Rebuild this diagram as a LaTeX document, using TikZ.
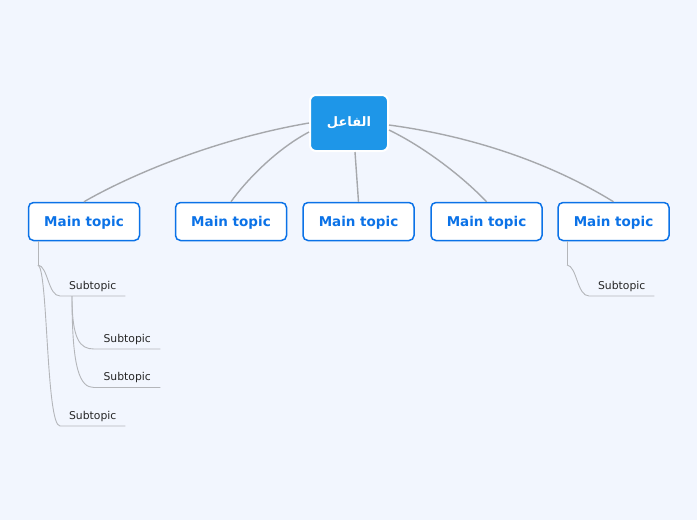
\documentclass[tikz,border=0pt]{standalone}
\usepackage{fontspec}
\setmainfont{DejaVu Sans}
\newfontfamily\arabicfont[Script=Arabic]{DejaVu Sans}
\TeXXeTstate=1
\usepackage{tikz}
\usetikzlibrary{positioning}

\definecolor{bgcol}{HTML}{F2F6FE}
\definecolor{rootblue}{HTML}{1E96E8}
\definecolor{topicblue}{HTML}{0B72E7}
\definecolor{linkgray}{HTML}{A6A8AC}
\definecolor{subgray}{HTML}{B4B6BA}

\tikzset{
  rootnode/.style={draw=white, line width=2pt, fill=rootblue, rounded corners=6pt,
    minimum width=78pt, minimum height=56pt, text=white, font=\fontsize{13}{16}\selectfont\bfseries},
  maintopic/.style={draw=topicblue, line width=1.5pt, fill=white, rounded corners=5pt,
    minimum width=111pt, minimum height=38pt, text height=12pt, text depth=2pt,
    text=topicblue, font=\fontsize{13.5}{16}\selectfont\bfseries},
  subtopic/.style={inner sep=0pt, minimum width=65pt, minimum height=19pt, anchor=south west,
    font=\fontsize{10.8}{12}\selectfont, text=black!85},
  link/.style={draw=linkgray, line width=1.4pt},
  sublink/.style={draw=subgray, line width=0.9pt}
}

\begin{document}
\begin{tikzpicture}[x=1pt,y=-1pt]
  \fill[bgcol] (0,0) rectangle (697,520);
  \useasboundingbox (0,0) rectangle (697,520);

  % central topic
  \node[rootnode] (root) at (349,123) {\arabicfont\beginR الفاعل\endR};

  % main topics
  \node[maintopic] (m1) at (84,221.5) {Main topic};
  \node[maintopic] (m2) at (231,221.5) {Main topic};
  \node[maintopic] (m3) at (358.5,221.5) {Main topic};
  \node[maintopic] (m4) at (486.5,221.5) {Main topic};
  \node[maintopic] (m5) at (613.5,221.5) {Main topic};

  % links from the centre
  \draw[link] (root.west) .. controls (210,140) and (125,178) .. (m1.north);
  \draw[link] ([yshift=-9pt]root.west) .. controls (275,150) and (245,182) .. (m2.north);
  \draw[link] ([xshift=6pt]root.south) -- (m3.north);
  \draw[link] ([yshift=-7pt]root.east) .. controls (430,150) and (468,182) .. (m4.north);
  \draw[link] ([yshift=-2pt]root.east) .. controls (500,140) and (575,178) .. (m5.north);

  % subtopics of the first main topic
  \node[subtopic] (s1) at (60,296) {Subtopic};
  \node[subtopic, minimum width=66pt] (s2) at (94,349) {Subtopic};
  \node[subtopic, minimum width=66pt] (s3) at (94,387.5) {Subtopic};
  \node[subtopic] (s4) at (60,426) {Subtopic};
  \coordinate (k1) at (38,265);
  \draw[sublink] ([xshift=-46pt]m1.south) -- (k1);
  \draw[sublink] (k1) .. controls (48,266) and (48,296) .. (s1.south west) -- (s1.south east);
  \draw[sublink] (k1) .. controls (48,268) and (46,426) .. (s4.south west) -- (s4.south east);
  \coordinate (k2) at (72,296);
  \draw[sublink] (k2) .. controls (72,340) and (80,349) .. (s2.south west) -- (s2.south east);
  \draw[sublink] (k2) .. controls (72,370) and (80,387.5) .. (s3.south west) -- (s3.south east);

  % subtopic of the last main topic
  \node[subtopic] (s5) at (589,296) {Subtopic};
  \coordinate (k3) at (567,265);
  \draw[sublink] ([xshift=-46.5pt]m5.south) -- (k3);
  \draw[sublink] (k3) .. controls (577,266) and (577,296) .. (s5.south west) -- (s5.south east);
\end{tikzpicture}
\end{document}
